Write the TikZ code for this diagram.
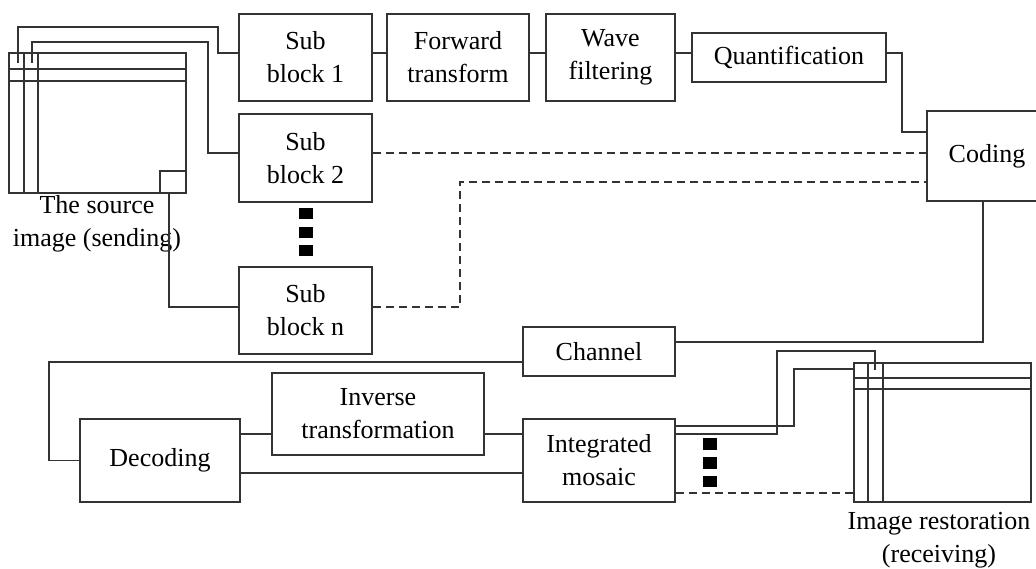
\documentclass[tikz,border=0pt]{standalone}
\usepackage{fontspec}
\setmainfont{Liberation Serif}
\definecolor{lc}{gray}{0.2}
\tikzset{
 box/.style={draw=lc, line width=1.5pt, inner sep=0pt, align=center, font=\fontsize{26}{33}\selectfont},
 gridbox/.style={draw=lc, line width=1.5pt, inner sep=0pt},
 wire/.style={draw=lc, line width=1.5pt},
 dwire/.style={wire, dash pattern=on 8pt off 5pt},
 lbl/.style={align=center, font=\fontsize{26}{33}\selectfont, inner sep=0pt},
 sqdot/.style={fill=black},
}
\begin{document}
\begin{tikzpicture}[x=1pt,y=-1pt]
\useasboundingbox (0,0) rectangle (1036,568);
\clip (0,0) rectangle (1036,568);
% boxes
\node[box, minimum width=133pt, minimum height=87pt] (sb1) at (305.5,57.5) {Sub\\block 1};
\node[box, minimum width=133pt, minimum height=88pt] (sb2) at (305.5,158) {Sub\\block 2};
\node[box, minimum width=133pt, minimum height=87pt] (sbn) at (305.5,310.5) {Sub\\block n};
\node[box, minimum width=142pt, minimum height=87pt] (fwd) at (458,57.5) {Forward\\transform};
\node[box, minimum width=129pt, minimum height=87pt] (wave) at (610.5,57.5) {Wave\\filtering};
\node[box, minimum width=194pt, minimum height=49pt] (quant) at (789,57.5) {Quantification};
\node[box, minimum width=120pt, minimum height=90pt] (coding) at (987,156) {Coding};
\node[box, minimum width=152pt, minimum height=49pt] (chan) at (599,351.5) {Channel};
\node[box, minimum width=160pt, minimum height=83pt] (dec) at (160,460.5) {Decoding};
\node[box, minimum width=212pt, minimum height=82pt] (inv) at (378,414) {Inverse\\transformation};
\node[box, minimum width=152pt, minimum height=83pt] (mos) at (599,460.5) {Integrated\\mosaic};
% source image grid
\node[gridbox, minimum width=177pt, minimum height=140pt] (src) at (97.5,123) {};
\draw[wire] (24,53) -- (24,193) (38,53) -- (38,193) (9,69) -- (186,69) (9,81) -- (186,81);
\node[gridbox, minimum width=26pt, minimum height=22pt] (srcsq) at (173,182) {};
\node[lbl] (srclbl) at (97,223.5) {The source\\image (sending)};
% restoration grid
\node[gridbox, minimum width=177pt, minimum height=139pt] (rst) at (942.5,432.5) {};
\draw[wire] (868,363) -- (868,502) (883,363) -- (883,502) (854,378) -- (1031,378) (854,389) -- (1031,389);
\node[lbl] (rstlbl) at (939,540) {Image restoration\\(receiving)};
% dots
\fill[sqdot] (299,208) rectangle (313,219);
\fill[sqdot] (299,227) rectangle (313,238);
\fill[sqdot] (299,245) rectangle (313,256);
\fill[sqdot] (703,438) rectangle (717,450);
\fill[sqdot] (703,457) rectangle (717,469);
\fill[sqdot] (703,476) rectangle (717,487);
% connectors
\coordinate (s1) at (18,63);
\coordinate (s2) at (32,63);
\coordinate (r2) at (875,370);
\draw[wire] (s1) |- (218,27) |- ([yshift=4.5pt]sb1.west);
\draw[wire] (s2) |- (208,42) |- ([yshift=5pt]sb2.west);
\draw[wire] ([xshift=-4pt]srcsq.south) |- ([yshift=3.5pt]sbn.west);
\draw[wire] ([yshift=4.5pt]sb1.east) -- ([yshift=4.5pt]fwd.west);
\draw[wire] ([yshift=4.5pt]fwd.east) -- ([yshift=4.5pt]wave.west);
\draw[wire] ([yshift=4.5pt]wave.east) -- ([yshift=4.5pt]quant.west);
\draw[wire] ([yshift=4.5pt]quant.east) -- ++(15,0) |- ([yshift=24pt]coding.west);
\draw[dwire] ([yshift=5pt]sb2.east) -- ([yshift=3pt]coding.west);
\draw[dwire] ([yshift=3.5pt]sbn.east) -| (460,182) -- ([yshift=-26pt]coding.west);
\draw[wire] ([xshift=-4pt]coding.south) |- ([yshift=9.5pt]chan.east);
\draw[wire] ([yshift=-10.5pt]chan.west) -| (49,460.5) -- (dec.west);
\draw[wire] ([yshift=26.5pt]dec.east) -- ([yshift=-20pt]inv.west);
\draw[wire] ([yshift=-20pt]inv.east) -- ([yshift=26.5pt]mos.west);
\draw[wire] ([yshift=-12.5pt]dec.east) -- ([yshift=-12.5pt]mos.west);
\draw[wire] ([yshift=34.5pt]mos.east) -| (794,369) -- ([yshift=63.5pt]rst.west);
\draw[wire] ([yshift=26.5pt]mos.east) -| (777,351) -| (r2);
\draw[dwire] ([yshift=-32.5pt]mos.east) -- ([yshift=-60.5pt]rst.west);
\end{tikzpicture}
\end{document}
